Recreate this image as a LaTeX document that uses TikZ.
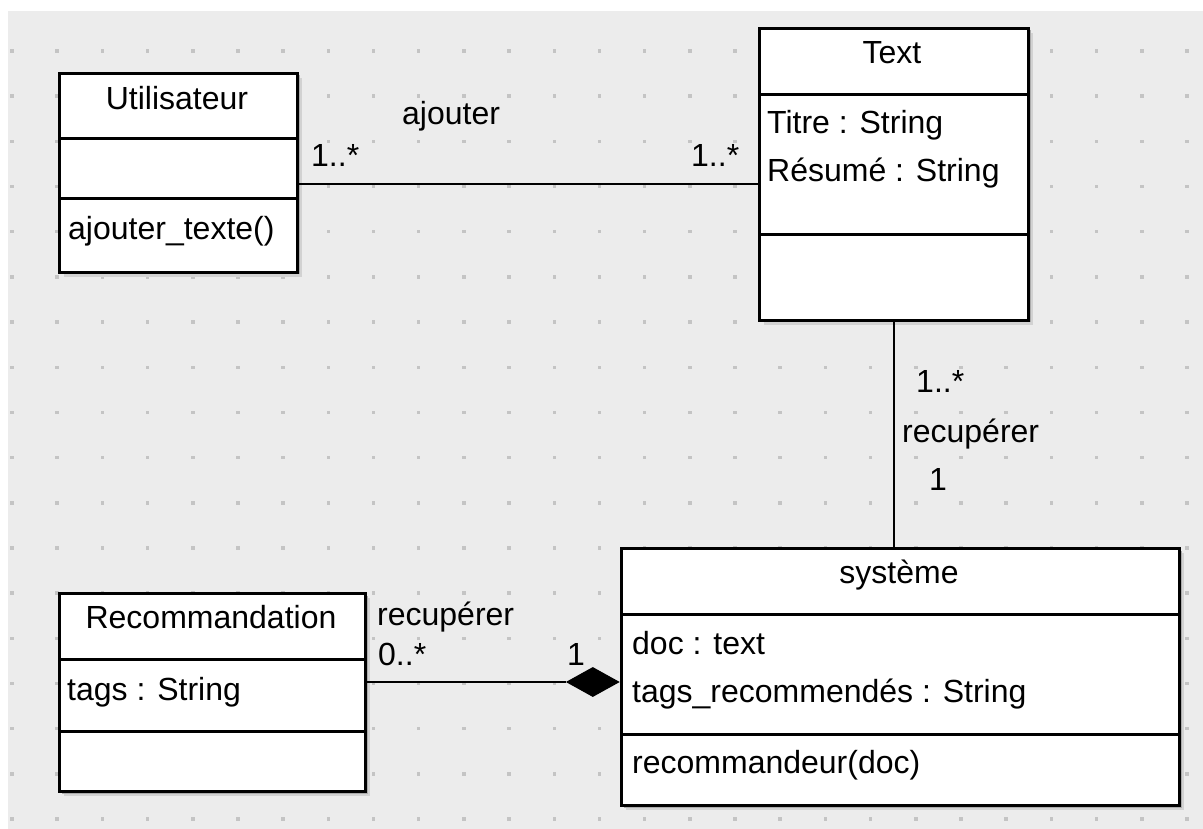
\documentclass[tikz,border=0pt]{standalone}
\usepackage{fontspec}
\setmainfont{Liberation Sans}
\usetikzlibrary{shapes.geometric}
\definecolor{bggray}{HTML}{ECECEC}
\definecolor{dotgray}{HTML}{C4C4C4}
\definecolor{shadowA}{HTML}{D2D2D2}
\definecolor{shadowB}{HTML}{ABABAB}
\tikzset{
  classbox/.style={draw=black, line width=3pt, fill=white, inner sep=0pt, anchor=north west},
  divider/.style={line width=3pt},
  assoc/.style={line width=2.6pt},
  lbl/.style={inner sep=0pt, anchor=base west, font=\fontsize{32}{36}\selectfont},
  title/.style={inner sep=0pt, anchor=base, font=\fontsize{32}{36}\selectfont},
}
\newcommand{\shadowbox}[4]{%
  \fill[shadowA] (#1+6,#2+6) rectangle (#3+6,#4+6);
  \fill[shadowB] (#1+3.5,#2+3.5) rectangle (#3+3.5,#4+3.5);
}
\begin{document}
\begin{tikzpicture}[x=1pt,y=-1pt]
\useasboundingbox (0,0) rectangle (1203,829);
\fill[white] (0,0) rectangle (1203,829);
\fill[bggray] (8,11) rectangle (1203,829);
\foreach \i in {0,...,26}{
  \foreach \j in {0,...,17}{
    \fill[dotgray] ({12+45.19*\i-1.75},{51+45.18*\j-1.75}) rectangle ++(3.5,3.5);
  }
}
% shadows
\shadowbox{58}{72}{296}{271}
\shadowbox{758}{27}{1027}{319}
\shadowbox{58}{592}{364}{790}
\shadowbox{620}{547}{1178}{804}
% classes
\node[classbox, minimum width=238, minimum height=199] (U) at (58,72) {};
\draw[divider] (58,139) -- (296,139);
\draw[divider] (58,199) -- (296,199);
\node[title] (Un) at (177,110) {Utilisateur};
\node[lbl] (Um) at (68,240) {ajouter\_texte()};

\node[classbox, minimum width=269, minimum height=292] (T) at (758,27) {};
\draw[divider] (758,95) -- (1027,95);
\draw[divider] (758,235) -- (1027,235);
\node[title] (Tn) at (892,64) {Text};
\node[lbl] (Ta1) at (767,134) {Titre : String};
\node[lbl] (Ta2) at (767,182) {Résumé : String};

\node[classbox, minimum width=306, minimum height=198] (R) at (58,592) {};
\draw[divider] (58,659) -- (364,659);
\draw[divider] (58,731) -- (364,731);
\node[title] (Rn) at (211,628) {Recommandation};
\node[lbl] (Ra1) at (67,700) {tags : String};

\node[classbox, minimum width=558, minimum height=257] (S) at (620,547) {};
\draw[divider] (620,614) -- (1178,614);
\draw[divider] (620,734) -- (1178,734);
\node[title] (Sn) at (899,583) {système};
\node[lbl] (Sa1) at (632,654) {doc : text};
\node[lbl] (Sa2) at (632,702) {tags\_recommendés : String};
\node[lbl] (Sm) at (632,773) {recommandeur(doc)};

% connectors
\coordinate (c1) at (0,184);
\coordinate (c3) at (0,682);
\draw[assoc] (U.east |- c1) -- (T.west |- c1);
\draw[assoc] (T.south) -- (T.south |- S.north);
\node[diamond, fill=black, draw=none, minimum width=54, minimum height=30, inner sep=0pt, anchor=east] (D) at (S.west |- c3) {};
\draw[assoc] (R.east |- c3) -- (D.west);

% labels
\node[lbl] (l1) at (402,125) {ajouter};
\node[lbl] (l2) at (311,167) {1..*};
\node[lbl] (l3) at (691,167) {1..*};
\node[lbl] (l4) at (916,392) {1..*};
\node[lbl] (l5) at (902,442) {recupérer};
\node[lbl] (l6) at (929,490) {1};
\node[lbl] (l7) at (377,625) {recupérer};
\node[lbl] (l8) at (378,665) {0..*};
\node[lbl] (l9) at (567,665) {1};
\end{tikzpicture}
\end{document}
